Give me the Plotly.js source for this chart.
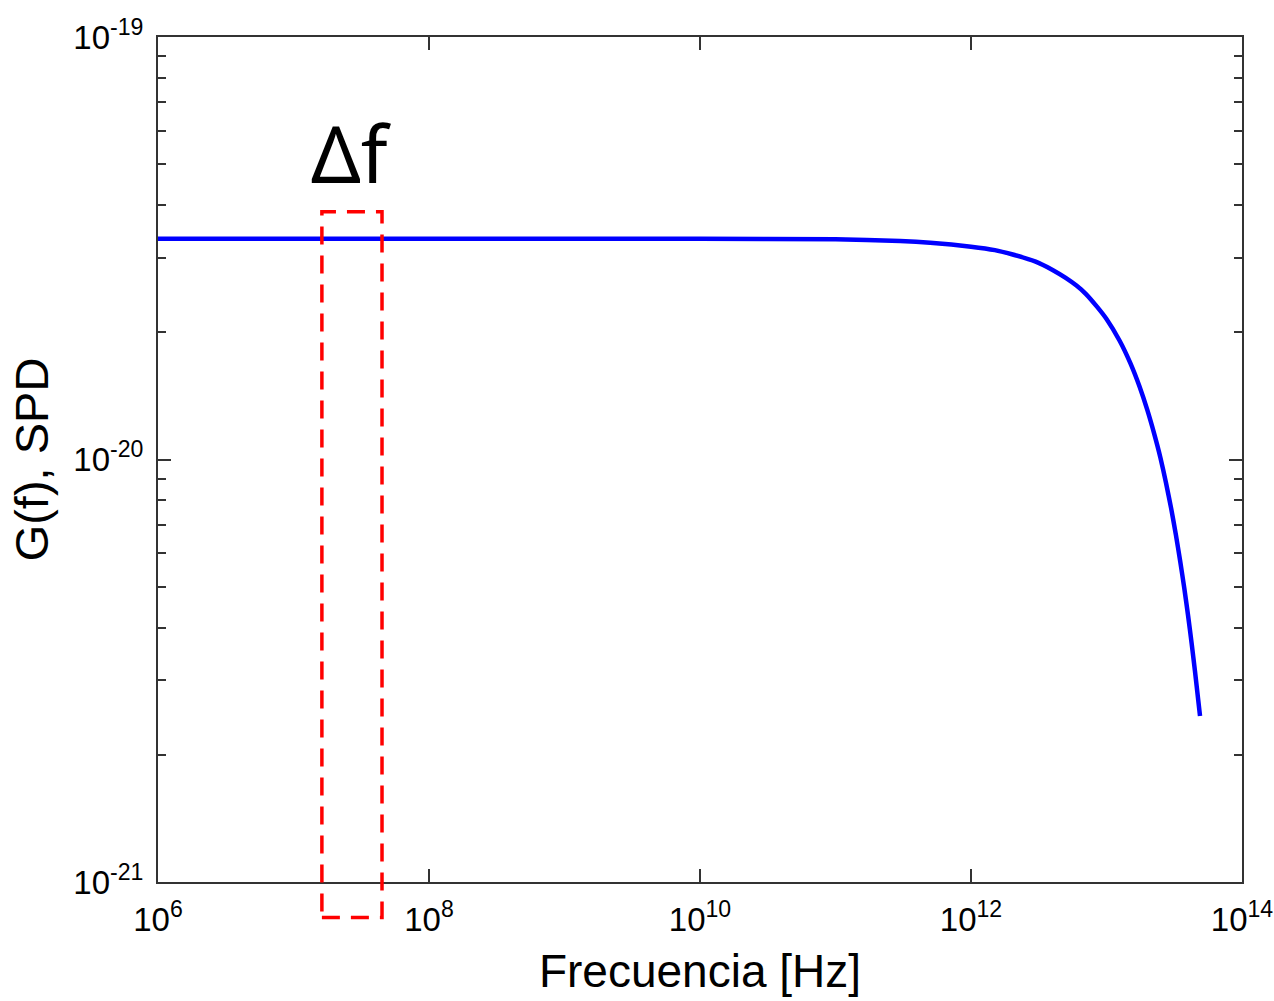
<!DOCTYPE html>
<html>
<head>
<meta charset="utf-8">
<script src="https://cdn.plot.ly/plotly-3.0.1.min.js"></script>
<style>html,body{margin:0;padding:0;background:#fff;}#chart{width:1274px;height:1001px;}</style>
</head>
<body>
<div id="chart"></div>
<script>
// Frequency [Hz] and spectral power density G(f)
var freq = [1e6, 1e7, 1e8, 1e9, 1e10, 1e11, 3e11, 5e11, 1e12, 1.5e12, 2e12, 3e12, 4e12, 5e12, 6e12, 7e12, 8.5e12, 1e13, 1.25e13, 1.5e13, 1.75e13, 2e13, 2.25e13, 2.5e13, 2.75e13, 3e13, 3.25e13, 3.5e13, 3.75e13, 4e13, 4.25e13, 4.5e13, 4.75e13, 4.9e13];
var spd  = [3.33e-20, 3.33e-20, 3.33e-20, 3.33e-20, 3.33e-20, 3.32e-20, 3.29e-20, 3.26e-20, 3.19e-20, 3.13e-20, 3.06e-20, 2.94e-20, 2.81e-20, 2.69e-20, 2.58e-20, 2.47e-20, 2.30e-20, 2.15e-20, 1.91e-20, 1.69e-20, 1.49e-20, 1.31e-20, 1.15e-20, 1.01e-20, 8.80e-21, 7.66e-21, 6.64e-21, 5.74e-21, 4.96e-21, 4.27e-21, 3.67e-21, 3.15e-21, 2.70e-21, 2.47e-21];

var xTickVals = [1e6, 1e8, 1e10, 1e12, 1e14];
var xTickText = ['10<sup>6</sup>', '10<sup>8</sup>', '10<sup>10</sup>', '10<sup>12</sup>', '10<sup>14</sup>'];
var yTickVals = [1e-21, 1e-20, 1e-19];
var yTickText = ['10<sup>-21</sup>', '10<sup>-20</sup>', '10<sup>-19</sup>'];

// Delta-f band (Hz) and its top level
var bandLow = 1.62e7, bandHigh = 4.5e7, bandTop = 3.86e-20;
var bandLabel = 'Δf';

var xRange = [6, 14], yRange = [-21, -19];
var yMinor = [];
for (var d = -21; d < -19; d++) for (var m = 2; m <= 9; m++) yMinor.push(m * Math.pow(10, d));

function px(v){ return (Math.log10(v) - xRange[0]) / (xRange[1] - xRange[0]); }
function py(v){ return (Math.log10(v) - yRange[0]) / (yRange[1] - yRange[0]); }

var trace = {
  x: freq, y: spd, type: 'scatter', mode: 'lines',
  line: {color: '#0000ff', width: 4.5, shape: 'spline', smoothing: 0.5},
  hoverinfo: 'skip'
};

var tickFont = {family: 'Liberation Sans, Arial, sans-serif', size: 33, color: '#000'};
var layout = {
  width: 1274, height: 1001,
  margin: {l: 158, r: 32, t: 37, b: 119},
  paper_bgcolor: '#fff', plot_bgcolor: '#fff',
  showlegend: false,
  xaxis: {
    type: 'log', range: xRange,
    tickmode: 'array', tickvals: xTickVals, ticktext: xTickText,
    ticks: 'inside', ticklen: 13, tickwidth: 2, tickcolor: '#333',
    showline: true, linecolor: '#333', linewidth: 2, mirror: 'ticks',
    showgrid: false, zeroline: false,
    tickfont: tickFont, ticklabelstandoff: 7,
    title: {text: 'Frecuencia [Hz]', font: {family: 'Liberation Sans, Arial, sans-serif', size: 46, color: '#000'}, standoff: 18}
  },
  yaxis: {
    type: 'log', range: yRange,
    tickmode: 'array', tickvals: yTickVals, ticktext: yTickText,
    ticks: 'inside', ticklen: 13, tickwidth: 2, tickcolor: '#333',
    minor: {tickmode: 'array', tickvals: yMinor, ticks: 'inside', ticklen: 8, tickwidth: 2, tickcolor: '#333', showgrid: false},
    showline: true, linecolor: '#333', linewidth: 2, mirror: 'ticks',
    showgrid: false, zeroline: false,
    tickfont: tickFont, ticklabelstandoff: 6,
    title: {text: 'G(f), SPD', font: {family: 'Liberation Sans, Arial, sans-serif', size: 47, color: '#000'}, standoff: 10}
  },
  shapes: [{
    type: 'rect', xref: 'paper', yref: 'paper',
    x0: px(bandLow), x1: px(bandHigh),
    y0: -0.042, y1: py(bandTop),
    line: {color: '#ff0000', width: 3.5, dash: '18px,11px'},
    fillcolor: 'rgba(0,0,0,0)', layer: 'above'
  }],
  annotations: [{
    xref: 'paper', yref: 'paper',
    x: px(Math.sqrt(bandLow * bandHigh)), y: py(bandTop) + 0.07,
    text: bandLabel, showarrow: false,
    xanchor: 'center', yanchor: 'middle',
    font: {family: 'Noto Sans, Open Sans, sans-serif', size: 78, color: '#000'}
  }]
};

Plotly.newPlot('chart', [trace], layout, {staticPlot: true, displayModeBar: false});
</script>
</body>
</html>
